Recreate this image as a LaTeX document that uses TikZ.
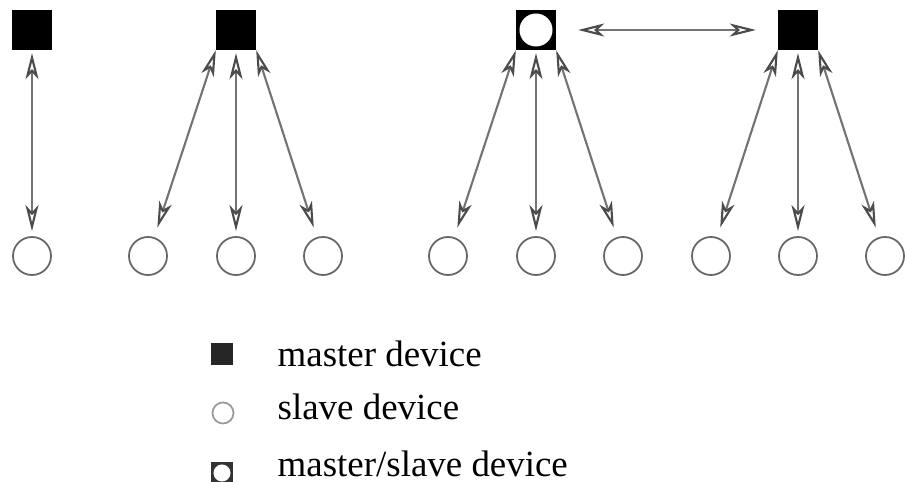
\documentclass[tikz,border=0pt]{standalone}
\usepackage{fontspec}
\setmainfont{Liberation Serif}
\usetikzlibrary{arrows.meta}

\tikzset{
  master/.style={draw=black,fill=black,minimum size=3.9mm,inner sep=0pt},
  slave/.style={circle,draw=black!60,line width=0.5pt,minimum size=3.8mm,inner sep=0pt},
  masterslave/.style={master,path picture={
      \fill[white] (path picture bounding box.center) circle (1.65mm);}},
  devtip/.tip={Stealth[open,length=2.6mm,width=1.3mm,inset=0.7mm,black!70]},
  link/.style={draw=black!55,line width=0.6pt,devtip-devtip},
  legend/.style={anchor=base west,inner sep=0pt,font=\fontsize{10.5}{12}\selectfont},
}

\begin{document}
\begin{tikzpicture}[x=0.01cm,y=-0.01cm]
    \useasboundingbox (0,0) rectangle (905,482);

    % masters
    \path
    (32,30) node[master] (m1) {}
    (236,30) node[master] (m2) {}
    (536,30) node[masterslave] (ms) {}
    (798,30) node[master] (m4) {}
    ;

    % slaves
    \path
    (32,256) node[slave] (s1) {}
    (148,256) node[slave] (s2a) {}
    (236,256) node[slave] (s2b) {}
    (323,256) node[slave] (s2c) {}
    (448,256) node[slave] (s3a) {}
    (536,256) node[slave] (s3b) {}
    (623,256) node[slave] (s3c) {}
    (711,256) node[slave] (s4a) {}
    (798,256) node[slave] (s4b) {}
    (885,256) node[slave] (s4c) {}
    ;

    \draw[link,shorten <=0.3mm,shorten >=0.5mm] (m1) -- (s1);

    \draw[link,shorten >=1.0mm] (m2.south west) -- (s2a);
    \draw[link,shorten <=0.3mm,shorten >=0.5mm] (m2) -- (s2b);
    \draw[link,shorten >=1.0mm] (m2.south east) -- (s2c);

    \draw[link,shorten >=1.0mm] (ms.south west) -- (s3a);
    \draw[link,shorten <=0.3mm,shorten >=0.5mm] (ms) -- (s3b);
    \draw[link,shorten >=1.0mm] (ms.south east) -- (s3c);

    \draw[link,shorten >=1.0mm] (m4.south west) -- (s4a);
    \draw[link,shorten <=0.3mm,shorten >=0.5mm] (m4) -- (s4b);
    \draw[link,shorten >=1.0mm] (m4.south east) -- (s4c);

    \draw[link,shorten <=2.2mm,shorten >=2.2mm] (ms) -- (m4);

    % legend
    \node[master,minimum size=2mm,fill=black!85,draw=black!85] (lm) at (222,354) {};
    \node[slave,minimum size=2.1mm,draw=black!40] (ls) at (223,413) {};
    \node[masterslave,minimum size=2mm,draw=black!80,fill=black!80,
      path picture={\fill[white] (path picture bounding box.center) circle (0.85mm);}] (lms) at (222,473) {};
    \node[legend] (tm) at (277,367) {master device};
    \node[legend] (ts) at (277,420) {slave device};
    \node[legend] (tms) at (277,477) {master/slave device};
  \end{tikzpicture}
\end{document}
